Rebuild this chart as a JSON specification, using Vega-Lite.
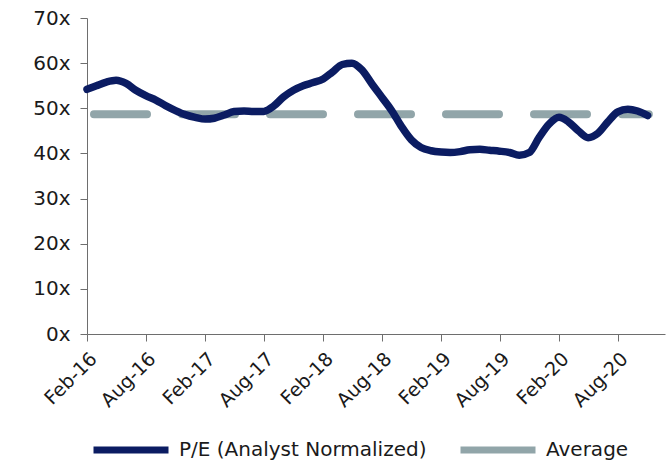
{
  "$schema": "https://vega.github.io/schema/vega-lite/v6.json",
  "width": 578,
  "height": 316,
  "autosize": "none",
  "padding": {"left": 87, "top": 18, "right": 7, "bottom": 126},
  "background": "white",
  "config": {
    "view": {"stroke": null},
    "font": "DejaVu Sans",
    "axis": {"labelFont": "DejaVu Sans", "labelColor": "#1a1a1a", "grid": false, "domainColor": "#6e6e6e", "tickColor": "#6e6e6e", "tickSize": 7, "title": null}
  },
  "datasets": {
    "pe": [
      {"date": "2016-02-01", "series": "P/E (Analyst Normalized)", "value": 54.2},
      {"date": "2016-03-01", "series": "P/E (Analyst Normalized)", "value": 55.0},
      {"date": "2016-04-01", "series": "P/E (Analyst Normalized)", "value": 55.8},
      {"date": "2016-05-01", "series": "P/E (Analyst Normalized)", "value": 56.2},
      {"date": "2016-06-01", "series": "P/E (Analyst Normalized)", "value": 55.5},
      {"date": "2016-07-01", "series": "P/E (Analyst Normalized)", "value": 54.0},
      {"date": "2016-08-01", "series": "P/E (Analyst Normalized)", "value": 52.8},
      {"date": "2016-09-01", "series": "P/E (Analyst Normalized)", "value": 51.8},
      {"date": "2016-10-01", "series": "P/E (Analyst Normalized)", "value": 50.6},
      {"date": "2016-11-01", "series": "P/E (Analyst Normalized)", "value": 49.5},
      {"date": "2016-12-01", "series": "P/E (Analyst Normalized)", "value": 48.6},
      {"date": "2017-01-01", "series": "P/E (Analyst Normalized)", "value": 48.0},
      {"date": "2017-02-01", "series": "P/E (Analyst Normalized)", "value": 47.6},
      {"date": "2017-03-01", "series": "P/E (Analyst Normalized)", "value": 47.8},
      {"date": "2017-04-01", "series": "P/E (Analyst Normalized)", "value": 48.5},
      {"date": "2017-05-01", "series": "P/E (Analyst Normalized)", "value": 49.3},
      {"date": "2017-06-01", "series": "P/E (Analyst Normalized)", "value": 49.4},
      {"date": "2017-07-01", "series": "P/E (Analyst Normalized)", "value": 49.3},
      {"date": "2017-08-01", "series": "P/E (Analyst Normalized)", "value": 49.3},
      {"date": "2017-09-01", "series": "P/E (Analyst Normalized)", "value": 50.5},
      {"date": "2017-10-01", "series": "P/E (Analyst Normalized)", "value": 52.5},
      {"date": "2017-11-01", "series": "P/E (Analyst Normalized)", "value": 54.0},
      {"date": "2017-12-01", "series": "P/E (Analyst Normalized)", "value": 55.0},
      {"date": "2018-01-01", "series": "P/E (Analyst Normalized)", "value": 55.7},
      {"date": "2018-02-01", "series": "P/E (Analyst Normalized)", "value": 56.5},
      {"date": "2018-03-01", "series": "P/E (Analyst Normalized)", "value": 58.0},
      {"date": "2018-04-01", "series": "P/E (Analyst Normalized)", "value": 59.7},
      {"date": "2018-05-01", "series": "P/E (Analyst Normalized)", "value": 60.0},
      {"date": "2018-06-01", "series": "P/E (Analyst Normalized)", "value": 58.5},
      {"date": "2018-07-01", "series": "P/E (Analyst Normalized)", "value": 55.5},
      {"date": "2018-08-01", "series": "P/E (Analyst Normalized)", "value": 52.5},
      {"date": "2018-09-01", "series": "P/E (Analyst Normalized)", "value": 49.5},
      {"date": "2018-10-01", "series": "P/E (Analyst Normalized)", "value": 46.0},
      {"date": "2018-11-01", "series": "P/E (Analyst Normalized)", "value": 43.0},
      {"date": "2018-12-01", "series": "P/E (Analyst Normalized)", "value": 41.3},
      {"date": "2019-01-01", "series": "P/E (Analyst Normalized)", "value": 40.6},
      {"date": "2019-02-01", "series": "P/E (Analyst Normalized)", "value": 40.3},
      {"date": "2019-03-01", "series": "P/E (Analyst Normalized)", "value": 40.2},
      {"date": "2019-04-01", "series": "P/E (Analyst Normalized)", "value": 40.4},
      {"date": "2019-05-01", "series": "P/E (Analyst Normalized)", "value": 40.8},
      {"date": "2019-06-01", "series": "P/E (Analyst Normalized)", "value": 40.9},
      {"date": "2019-07-01", "series": "P/E (Analyst Normalized)", "value": 40.7},
      {"date": "2019-08-01", "series": "P/E (Analyst Normalized)", "value": 40.5},
      {"date": "2019-09-01", "series": "P/E (Analyst Normalized)", "value": 40.2},
      {"date": "2019-10-01", "series": "P/E (Analyst Normalized)", "value": 39.6},
      {"date": "2019-11-01", "series": "P/E (Analyst Normalized)", "value": 40.2},
      {"date": "2019-12-01", "series": "P/E (Analyst Normalized)", "value": 43.5},
      {"date": "2020-01-01", "series": "P/E (Analyst Normalized)", "value": 46.5},
      {"date": "2020-02-01", "series": "P/E (Analyst Normalized)", "value": 48.0},
      {"date": "2020-03-01", "series": "P/E (Analyst Normalized)", "value": 47.0},
      {"date": "2020-04-01", "series": "P/E (Analyst Normalized)", "value": 45.0},
      {"date": "2020-05-01", "series": "P/E (Analyst Normalized)", "value": 43.5},
      {"date": "2020-06-01", "series": "P/E (Analyst Normalized)", "value": 44.5},
      {"date": "2020-07-01", "series": "P/E (Analyst Normalized)", "value": 47.0},
      {"date": "2020-08-01", "series": "P/E (Analyst Normalized)", "value": 49.2},
      {"date": "2020-09-01", "series": "P/E (Analyst Normalized)", "value": 49.8},
      {"date": "2020-10-01", "series": "P/E (Analyst Normalized)", "value": 49.4},
      {"date": "2020-11-01", "series": "P/E (Analyst Normalized)", "value": 48.4}
    ],
    "avg": [
      {"date": "2016-02-01", "series": "Average", "value": 48.7},
      {"date": "2020-11-05", "series": "Average", "value": 48.7}
    ]
  },
  "encoding": {
    "x": {
      "field": "date", "type": "temporal",
      "scale": {"domain": ["2016-02-01", "2020-12-25"]},
      "axis": {
        "values": ["2016-02-01", "2016-08-01", "2017-02-01", "2017-08-01", "2018-02-01", "2018-08-01", "2019-02-01", "2019-08-01", "2020-02-01", "2020-08-01"],
        "format": "%b-%y", "labelAngle": -45, "labelAlign": "right", "labelBaseline": "top",
        "labelFontSize": 19, "labelPadding": 8, "labelOverlap": false, "labelBound": false, "labelFlush": false
      }
    },
    "y": {
      "field": "value", "type": "quantitative",
      "scale": {"domain": [0, 70]},
      "axis": {"values": [0, 10, 20, 30, 40, 50, 60, 70], "labelExpr": "datum.value + 'x'", "labelFontSize": 20, "labelPadding": 10}
    },
    "color": {
      "field": "series", "type": "nominal",
      "scale": {"domain": ["P/E (Analyst Normalized)", "Average"], "range": ["#0b1c62", "#91a5a9"]},
      "legend": {
        "title": null, "orient": "none", "legendX": 3, "legendY": 416, "direction": "horizontal",
        "symbolType": "M-1,0H5", "symbolSize": 625, "symbolStrokeWidth": 7, "symbolStrokeCap": "round",
        "symbolFillColor": "transparent",
        "labelFontSize": 20, "labelColor": "#1a1a1a", "labelOffset": 57, "labelLimit": 400, "columnPadding": 19
      }
    }
  },
  "layer": [
    {
      "data": {"name": "avg"},
      "mark": {"type": "line", "strokeWidth": 8, "strokeCap": "round", "strokeDash": [53, 35], "strokeDashOffset": 81}
    },
    {
      "data": {"name": "pe"},
      "mark": {"type": "line", "strokeWidth": 7.5, "strokeCap": "round", "interpolate": "monotone"}
    }
  ]
}
